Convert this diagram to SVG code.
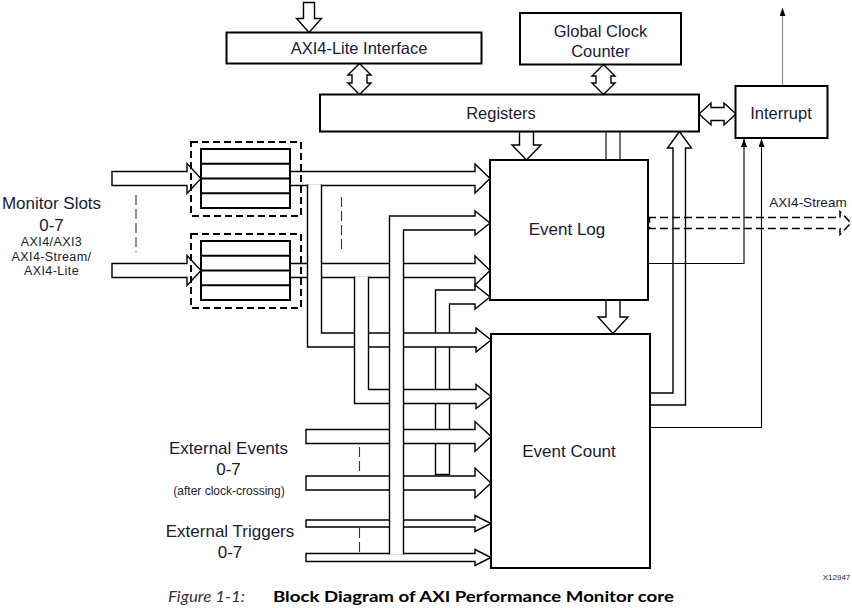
<svg xmlns="http://www.w3.org/2000/svg" width="852" height="608" viewBox="0 0 852 608">
<style>
.box{fill:#fff;stroke:#000;stroke-width:2}
.bus{fill:#fff;stroke:#000;stroke-width:1.4;stroke-linejoin:miter}
.thin{fill:none;stroke:#000;stroke-width:1.1}
.sep{fill:none;stroke:#333;stroke-width:1.1;stroke-dasharray:10 4}
.fifoDash{fill:none;stroke:#000;stroke-width:2;stroke-dasharray:7 4}
.row{stroke:#000;stroke-width:2}
.t{font-family:"Liberation Sans",Arial,sans-serif;fill:#1a1a33;text-anchor:middle;dominant-baseline:central}
.big{font-size:17px}
.mid{font-size:16.5px}
.sm{font-size:12.5px;letter-spacing:0.4px}
.xs{font-size:12px}
</style>
<defs>
<marker id="ah" markerUnits="userSpaceOnUse" markerWidth="8" markerHeight="10" refX="8" refY="3" orient="auto">
<path d="M0,0 L8,3 L0,6 Z" fill="#000"/>
</marker>
</defs>

<g id="connectors">
<path class="bus" d="M303.5,2.5 H314.5 V18.5 H321.5 L309,32.5 L296.5,18.5 H303.5 Z"/>
<path class="bus" d="M359.5,63.5 L371,75 H367 V83 H371 L359.5,94.5 L348,83 H352 V75 H348 Z"/>
<path class="bus" d="M603.5,64.5 L615,76 H611 V83 H615 L603.5,94.5 L592,83 H596 V76 H592 Z"/>
<path class="bus" d="M699,114 L711,103 V107.5 H724 V103 L736,114 L724,125 V120.5 H711 V125 Z"/>
<path d="M782.5,86 V8" fill="none" stroke="#8c8c8c" stroke-width="1.2" marker-end="url(#ah)"/>
<path class="bus" d="M519.5,131.5 V145 H512 L526.5,160 L541,145 H533.5 V131.5 Z"/>
<path class="thin" d="M606,131.5 V160 M620,131.5 V160" stroke-width="1.4"/>
<path class="bus" d="M606,300 V317 H598 L613,333.5 L628,317 H620 V300 Z"/>
<path class="bus" d="M650,393 H673 V148 H667.5 L679.5,131.5 L691.5,148 H685.5 V405 H650"/>
<path class="thin" d="M648,263.5 H744 V139" marker-end="url(#ah)"/>
<path class="thin" d="M650,427.5 H761.5 V139" marker-end="url(#ah)"/>
<path d="M648,217.5 H840 V211.5 L851,223 L840,234.5 V228.5 H649.5 V217.5" fill="none" stroke="#000" stroke-width="1.5" stroke-dasharray="8 4"/>

<path class="bus" d="M112,171.5 H187 V163.5 L201,178.5 L187,193.5 V185.5 H112 Z"/>
<path class="bus" d="M112,263.5 H187 V255.5 L201,270.5 L187,285.5 V277.5 H112 Z"/>

<path class="bus" d="M435.5,474.5 V290 H475 V285 L490,297 L475,309 V304 H449.5 V474.5 Z"/>
<path class="bus" d="M290,171.5 H475 V164 L490,178.5 L475,193 V185.5 H290 Z"/>
<path class="bus" d="M290,263.5 H475 V256 L490,270.5 L475,285 V277.5 H290 Z"/>
<path class="bus" d="M307.5,184.5 V347 H476 V352 L491,340 L476,328 V333 H321.5 V184.5"/>
<path class="bus" d="M354.5,276.5 V403.5 H476 V408.5 L491,396.5 L476,384.5 V389.5 H368.5 V276.5"/>
<path class="bus" d="M306,429.5 H475 V421.5 L491,436.5 L475,451.5 V443.5 H306 Z"/>
<path class="bus" d="M306,476 H475 V468 L491,483 L475,498 V490 H306 Z"/>
<path class="bus" d="M306,520 H475 V515.5 L491,523.5 L475,531.5 V527 H306 Z"/>
<path class="bus" d="M306,553.5 H475 V549.5 L491,557.5 L475,565.5 V561.5 H306 Z"/>
<path class="bus" d="M389.5,554.5 V216 H475 V211 L490,223 L475,235 V230 H403.5 V554.5"/>

<path class="sep" d="M136,195 V252"/>
<path class="sep" d="M341.5,197 V253"/>
<path class="sep" d="M359.5,447 V472"/>
<path class="sep" d="M359.5,528 V552"/>
</g>

<g id="axi4-lite-interface">
<rect class="box" x="226.5" y="32.5" width="255" height="31"/>
<text class="t mid" x="359" y="48">AXI4-Lite Interface</text>
</g>
<g id="global-clock-counter">
<rect class="box" x="520" y="13" width="161" height="51.5"/>
<text class="t mid" x="600.5" y="30.5">Global Clock</text>
<text class="t mid" x="600.5" y="50.5">Counter</text>
</g>
<g id="registers">
<rect class="box" x="320" y="94.5" width="379" height="37"/>
<text class="t mid" x="501" y="113">Registers</text>
</g>
<g id="interrupt">
<rect class="box" x="735.5" y="86" width="92" height="52"/>
<text class="t mid" x="781" y="113">Interrupt</text>
</g>
<g id="event-log">
<rect class="box" x="490" y="160" width="158" height="140" stroke-width="2.4"/>
<text class="t big" x="567" y="229">Event Log</text>
</g>
<g id="event-count">
<rect class="box" x="491" y="334" width="159" height="234" stroke-width="2.4"/>
<text class="t big" x="569" y="451">Event Count</text>
</g>
<g id="fifo-0">
<rect class="fifoDash" x="191" y="142" width="110" height="74"/>
<rect class="box" x="201" y="149" width="89" height="59"/>
<path class="row" d="M201,163.75 H290 M201,178.5 H290 M201,193.25 H290"/>
</g>
<g id="fifo-7">
<rect class="fifoDash" x="191" y="234" width="110" height="74"/>
<rect class="box" x="201" y="241" width="89" height="59"/>
<path class="row" d="M201,255.75 H290 M201,270.5 H290 M201,285.25 H290"/>
</g>

<g id="labels">
<text class="t big" x="51.5" y="203">Monitor Slots</text>
<text class="t big" x="51.5" y="225.5">0-7</text>
<text class="t sm" x="51.5" y="242">AXI4/AXI3</text>
<text class="t sm" x="51.5" y="256.5">AXI4-Stream/</text>
<text class="t sm" x="51.5" y="271">AXI4-Lite</text>
<text class="t big" x="228.5" y="448">External Events</text>
<text class="t big" x="228.5" y="469.5">0-7</text>
<text class="t xs" x="229" y="491">(after clock-crossing)</text>
<text class="t big" x="230" y="531">External Triggers</text>
<text class="t big" x="230" y="552.5">0-7</text>
<text class="t" x="808" y="202" font-size="13.5">AXI4-Stream</text>
<text class="t" x="836.5" y="577" font-size="8">X12947</text>
</g>

<g id="caption">
<text x="168" y="602" font-family="Lato,'Open Sans',sans-serif" font-style="italic" font-size="16" fill="#333" textLength="77" lengthAdjust="spacingAndGlyphs">Figure 1-1:</text>
<text x="273" y="602" font-family="Lato,'Open Sans',sans-serif" font-weight="bold" font-size="16" fill="#000" textLength="401" lengthAdjust="spacingAndGlyphs">Block Diagram of AXI Performance Monitor core</text>
</g>
</svg>
